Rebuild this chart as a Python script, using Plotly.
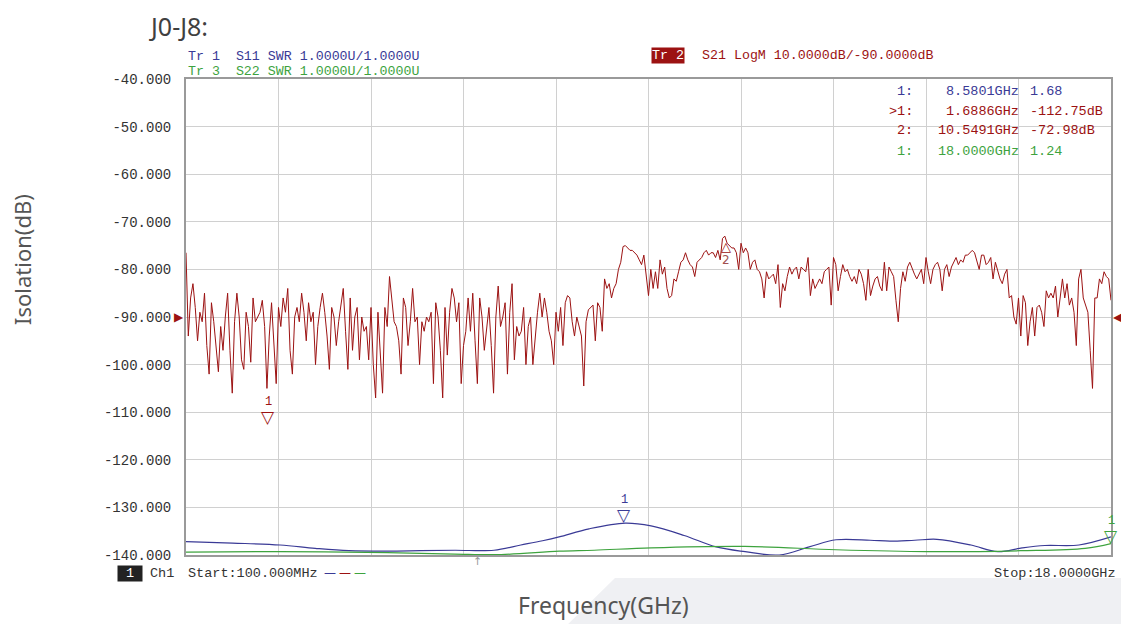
import numpy as np
import plotly.graph_objects as go

# ---------------- data ----------------
f_start, f_stop = 0.1, 18.0  # GHz sweep

# S21 LogM trace (dB), evenly spaced sweep points
s21_db = [
    -76.5, -94, -86, -83, -88, -95, -89, -91, -85, -96,
    -102, -87, -91, -96, -101.5, -92, -97, -90, -85, -97,
    -106, -91, -85, -90, -99, -101, -89, -92, -99.5, -86,
    -91, -90, -89, -86.5, -92, -105, -94, -87, -96, -104,
    -88, -92, -86, -89, -84, -97, -102, -90, -88, -91,
    -85, -89, -95, -87, -91, -89, -100, -92, -88, -85,
    -89, -94, -101, -88, -90, -96, -91,
    -87, -84, -93, -101, -86, -97, -90, -88, -99, -90, -93, -92, -99,
    -88, -100, -107, -89, -97, -106, -88, -92, -81.5, -87,
    -91, -92, -95, -102, -86, -88, -96, -91, -84, -91,
    -90, -100, -91, -93, -90, -91, -89, -104, -87, -90,
    -97, -107, -88, -98, -89, -84, -86, -91, -87, -104,
    -96, -93, -86, -93, -85, -95, -104, -86, -90, -97, -92, -88, -96, -106,
    -90, -83.5, -92, -90, -87, -102,
    -89, -83, -99, -92, -94, -93, -88, -100, -92, -90,
    -100, -94, -89, -85, -90, -86, -89, -93, -95, -100,
    -89, -93, -88, -96, -87, -85.5, -86, -91, -94, -90,
    -92, -94, -104.5, -91, -88.5, -88, -87.5, -95, -87, -88,
    -93, -82, -84, -83, -86, -84, -83, -80, -78.5, -75.2,
    -75, -75.5, -76, -76, -76.5, -77, -78, -79, -77, -82, -85.5,
    -80, -84, -80.5, -84, -78, -81, -79.5, -84, -86, -85.5,
    -82, -82.5, -80.5, -78.5, -78, -76.5, -78, -79, -79.5,
    -81.5, -78.5, -78, -77.5, -76.5, -76, -77, -76.5, -76.5, -77.5,
    -76, -78, -73.5, -73, -74.5, -75, -75.5, -75.5, -76.5, -80,
    -74.5, -76.5, -75.5, -76.5, -80, -78.5, -78, -80, -80.5, -82,
    -86, -80.5, -82, -81.5, -81, -83, -79, -88, -83, -84.5,
    -81.5, -79.5, -81, -80, -79.5, -82, -79.5, -80,
    -80.5, -77.5, -85.5, -82, -84, -83, -82, -83, -80.5, -80,
    -79.5, -87.5, -77.5, -79, -84.5, -81.5, -79, -80.5, -80, -81.5,
    -82.5, -81.5, -83, -80, -81, -83, -86.5, -80, -85.5, -83.5,
    -82, -81.5,
    -83.5, -84.5, -78.5, -84.5, -79.5, -80.5, -81.5, -86.5, -91, -84,
    -80.5, -82.5, -79.5, -78.5, -80, -81, -82, -81, -80, -83,
    -77.5, -80.5, -83, -80, -79, -78.5, -80, -84.5, -80, -79,
    -81.5, -79.5, -78.5, -77.5, -79,
    -78, -78.5, -77, -77, -76.5,
    -76, -76.5, -78, -80, -77, -77, -79, -78.5, -77.5, -82,
    -78.5, -80.5, -82, -83, -81, -80, -86, -85.5, -90, -91.5,
    -86, -94, -85.5, -87, -96, -91, -88, -94, -88, -87.5,
    -89, -92, -84.5, -86, -85, -86, -83.5, -90, -86, -82,
    -86, -83, -87.5, -86, -89, -96, -82, -80, -86, -87.5,
    -89, -97, -105, -86, -86, -82, -83, -80.5, -81.5, -82,
    -86.5,
]
s21_f = np.linspace(f_start, f_stop, len(s21_db))

# S11 SWR trace
s11_f = [0.1, 1.0, 1.92, 2.6, 3.25, 4.0, 4.63, 5.3, 6.06, 6.58, 7.0, 7.32, 7.9, 8.6,
         9.1, 9.74, 10.36, 10.92, 11.58, 12.16, 12.68, 13.34, 13.72, 14.2, 14.63,
         15.29, 15.81, 16.28, 16.72, 17.38, 18.0]
s11_swr = [1.28, 1.25, 1.21, 1.14, 1.09, 1.08, 1.09, 1.10, 1.10, 1.21, 1.30, 1.38, 1.55, 1.67,
           1.61, 1.41, 1.17, 1.07, 1.00, 1.17, 1.32, 1.31, 1.29, 1.31, 1.33,
           1.21, 1.07, 1.15, 1.20, 1.21, 1.38]

# S22 SWR trace
s22_f = [0.1, 1.92, 4.0, 5.3, 6.2, 7.32, 8.0, 9.1, 10.92, 12.68, 14.45, 16.25, 17.5, 18.0]
s22_swr = [1.06, 1.07, 1.05, 1.02, 1.01, 1.08, 1.10, 1.15, 1.18, 1.11, 1.07, 1.09, 1.14, 1.24]

# Markers
mk_s21_f = [1.6886, 10.5491]
mk_s21_db = [-112.75, -72.98]
mk_s11_f = [8.5801]
mk_s11_swr = [1.68]
mk_s22_f = [18.0]
mk_s22_swr = [1.24]

y_ticks = [-40, -50, -60, -70, -80, -90, -100, -110, -120, -130, -140]
y_ticklabels = ["-40.000", "-50.000", "-60.000", "-70.000", "-80.000", "-90.000",
                "-100.000", "-110.000", "-120.000", "-130.000", "-140.000"]

# ---------------- styles ----------------
RED = "#9c1212"
BLUE = "#3a3a96"
GREEN = "#3ea33e"
MONO = "Liberation Mono"
OFF = 8                      # page body margin
W, H = 1121, 616
L, R, T, B = 178, 18, 71, 69
PW, PH = W - L - R, H - T - B


def px(x):  # page pixel -> paper x
    return (x - OFF - L) / PW


def py(y):  # page pixel -> paper y
    return (H - B - (y - OFF)) / PH


fig = go.Figure()
fig.add_trace(go.Scatter(x=s11_f, y=s11_swr, mode="lines", yaxis="y2",
                         line=dict(color=BLUE, width=1.2, shape="spline", smoothing=1.0)))
fig.add_trace(go.Scatter(x=s22_f, y=s22_swr, mode="lines", yaxis="y2",
                         line=dict(color=GREEN, width=1.2, shape="spline", smoothing=1.0)))
fig.add_trace(go.Scatter(x=s21_f, y=s21_db, mode="lines",
                         line=dict(color=RED, width=1)))

ann = []


def A(**k):
    base = dict(showarrow=False, xref="paper", yref="paper")
    base.update(k)
    ann.append(base)


mono = lambda size, color: dict(family=MONO, size=size, color=color)

# title
A(text="J0-J8:", x=px(148), y=py(8), xanchor="left", yanchor="top", borderpad=0,
  font=dict(family="Noto Sans", size=25, color="#404040"))
# axis titles
A(text="Isolation(dB)", x=px(22), y=py(260), textangle=-90, xanchor="center", yanchor="middle",
  font=dict(family="Noto Sans", size=22, color="#555555"))
A(text="Frequency(GHz)", x=px(603), y=py(605), xanchor="center", yanchor="middle",
  font=dict(family="Noto Sans", size=23, color="#555555"))

# header lines
A(text="Tr 1  S11 SWR 1.0000U/1.0000U", x=px(186), y=py(57), xanchor="left", yanchor="middle",
  font=mono(13.3, BLUE))
A(text="Tr 3  S22 SWR 1.0000U/1.0000U", x=px(186), y=py(71), xanchor="left", yanchor="middle",
  font=mono(13.3, GREEN))
A(text="Tr 2", x=px(651), y=py(56), xanchor="left", yanchor="middle", bgcolor="#9c1212",
  borderpad=0, font=mono(13.3, "#ffffff"))
A(text="S21 LogM 10.0000dB/-90.0000dB", x=px(700), y=py(56), xanchor="left", yanchor="middle",
  font=mono(13.3, RED))

# marker table
rows = [
    ("1:", f"{mk_s11_f[0]:.4f}GHz", f"{mk_s11_swr[0]:.2f}", BLUE),
    (">1:", f"{mk_s21_f[0]:.4f}GHz", f"{mk_s21_db[0]:.2f}dB", RED),
    ("2:", f"{mk_s21_f[1]:.4f}GHz", f"{mk_s21_db[1]:.2f}dB", RED),
    ("1:", f"{mk_s22_f[0]:.4f}GHz", f"{mk_s22_swr[0]:.2f}", GREEN),
]
for i, (a, b, c, col) in enumerate(rows):
    yy = py(91 + 20 * i)
    A(text=a, x=px(915), y=yy, xanchor="right", yanchor="middle", font=mono(13.5, col))
    A(text=b, x=px(1021), y=yy, xanchor="right", yanchor="middle", font=mono(13.5, col))
    A(text=c, x=px(1028), y=yy, xanchor="left", yanchor="middle", font=mono(13.5, col))

# bottom status line
A(text=" 1 ", x=px(117), y=py(573), xanchor="left", yanchor="middle", bgcolor="#222222",
  borderpad=0, font=mono(13.5, "#ffffff"))
A(text="Ch1", x=px(148), y=py(573), xanchor="left", yanchor="middle", font=mono(13.5, "#333333"))
A(text="Start:100.000MHz", x=px(186), y=py(573), xanchor="left", yanchor="middle",
  font=mono(13.5, "#333333"))
for k, col in enumerate([BLUE, RED, GREEN]):
    A(text="—", x=px(322 + 15 * k), y=py(573), xanchor="left", yanchor="middle",
      font=dict(family="DejaVu Sans", size=12, color=col))
A(text="Stop:18.0000GHz", x=px(1118), y=py(573), xanchor="right", yanchor="middle",
  font=mono(13.5, "#333333"))
A(text="↑", x=px(477), y=py(561), xanchor="center", yanchor="middle",
  font=dict(family="DejaVu Sans", size=11, color="#9a9a9a"))

# reference level arrows
ann.append(dict(text="▶", x=0, xref="paper", y=-90, yref="y", xanchor="right", yanchor="middle",
                showarrow=False, font=dict(family="DejaVu Sans", size=12, color=RED)))
ann.append(dict(text="◀", x=1, xref="paper", y=-90, yref="y", xanchor="left", yanchor="middle",
                showarrow=False, font=dict(family="DejaVu Sans", size=12, color=RED)))


def marker_down(x, y, yref, color, label):
    ann.append(dict(text="▽", x=x, y=y, xref="x", yref=yref, xanchor="center", yanchor="bottom",
                    yshift=-4, showarrow=False, font=dict(family="DejaVu Sans", size=17, color=color)))
    ann.append(dict(text=label, x=x, y=y, xref="x", yref=yref, xanchor="center", yanchor="bottom",
                    yshift=14, showarrow=False, font=dict(family=MONO, size=12, color=color)))


marker_down(mk_s21_f[0], mk_s21_db[0], "y", RED, "1")
marker_down(mk_s11_f[0], mk_s11_swr[0], "y2", BLUE, "1")
marker_down(mk_s22_f[0], mk_s22_swr[0], "y2", GREEN, "1")
# active marker 2 (drawn below the point)
ann.append(dict(text="△", x=mk_s21_f[1], y=mk_s21_db[1], xref="x", yref="y", xanchor="center",
                yanchor="top", yshift=-1, showarrow=False,
                font=dict(family="DejaVu Sans", size=13, color=RED)))
ann.append(dict(text="2", x=mk_s21_f[1], y=mk_s21_db[1], xref="x", yref="y", xanchor="center",
                yanchor="top", yshift=-15, showarrow=False,
                font=dict(family="DejaVu Sans", size=12, color="#a05050")))

shapes = [
    dict(type="path", xref="paper", yref="paper", layer="below",
         path=f"M {px(560)} {py(632)} L {px(615)} {py(578)} L {px(1135)} {py(578)} "
              f"L {px(1135)} {py(632)} Z",
         fillcolor="#eff0f3", line=dict(width=0)),
]

fig.update_layout(
    width=W, height=H,
    margin=dict(l=L, r=R, t=T, b=B),
    paper_bgcolor="white", plot_bgcolor="white",
    showlegend=False,
    annotations=ann,
    shapes=shapes,
    xaxis=dict(range=[f_start, f_stop], tick0=f_start, dtick=(f_stop - f_start) / 10,
               showticklabels=False, ticks="", showgrid=True, gridcolor="#d0d0d0", gridwidth=1,
               showline=True, linecolor="#9a9a9a", linewidth=2, mirror=True, zeroline=False),
    yaxis=dict(range=[-140, -40], tickvals=y_ticks, ticktext=y_ticklabels,
               showgrid=True, gridcolor="#d0d0d0", gridwidth=1, ticks="",
               ticklabelstandoff=10,
               tickfont=dict(family=MONO, size=14, color="#333333"),
               showline=True, linecolor="#9a9a9a", linewidth=2, mirror=True, zeroline=False),
    yaxis2=dict(range=[1, 11], overlaying="y", showgrid=False, showticklabels=False,
                zeroline=False, showline=False),
)

fig.write_html("out.html", config={"displayModeBar": False})
